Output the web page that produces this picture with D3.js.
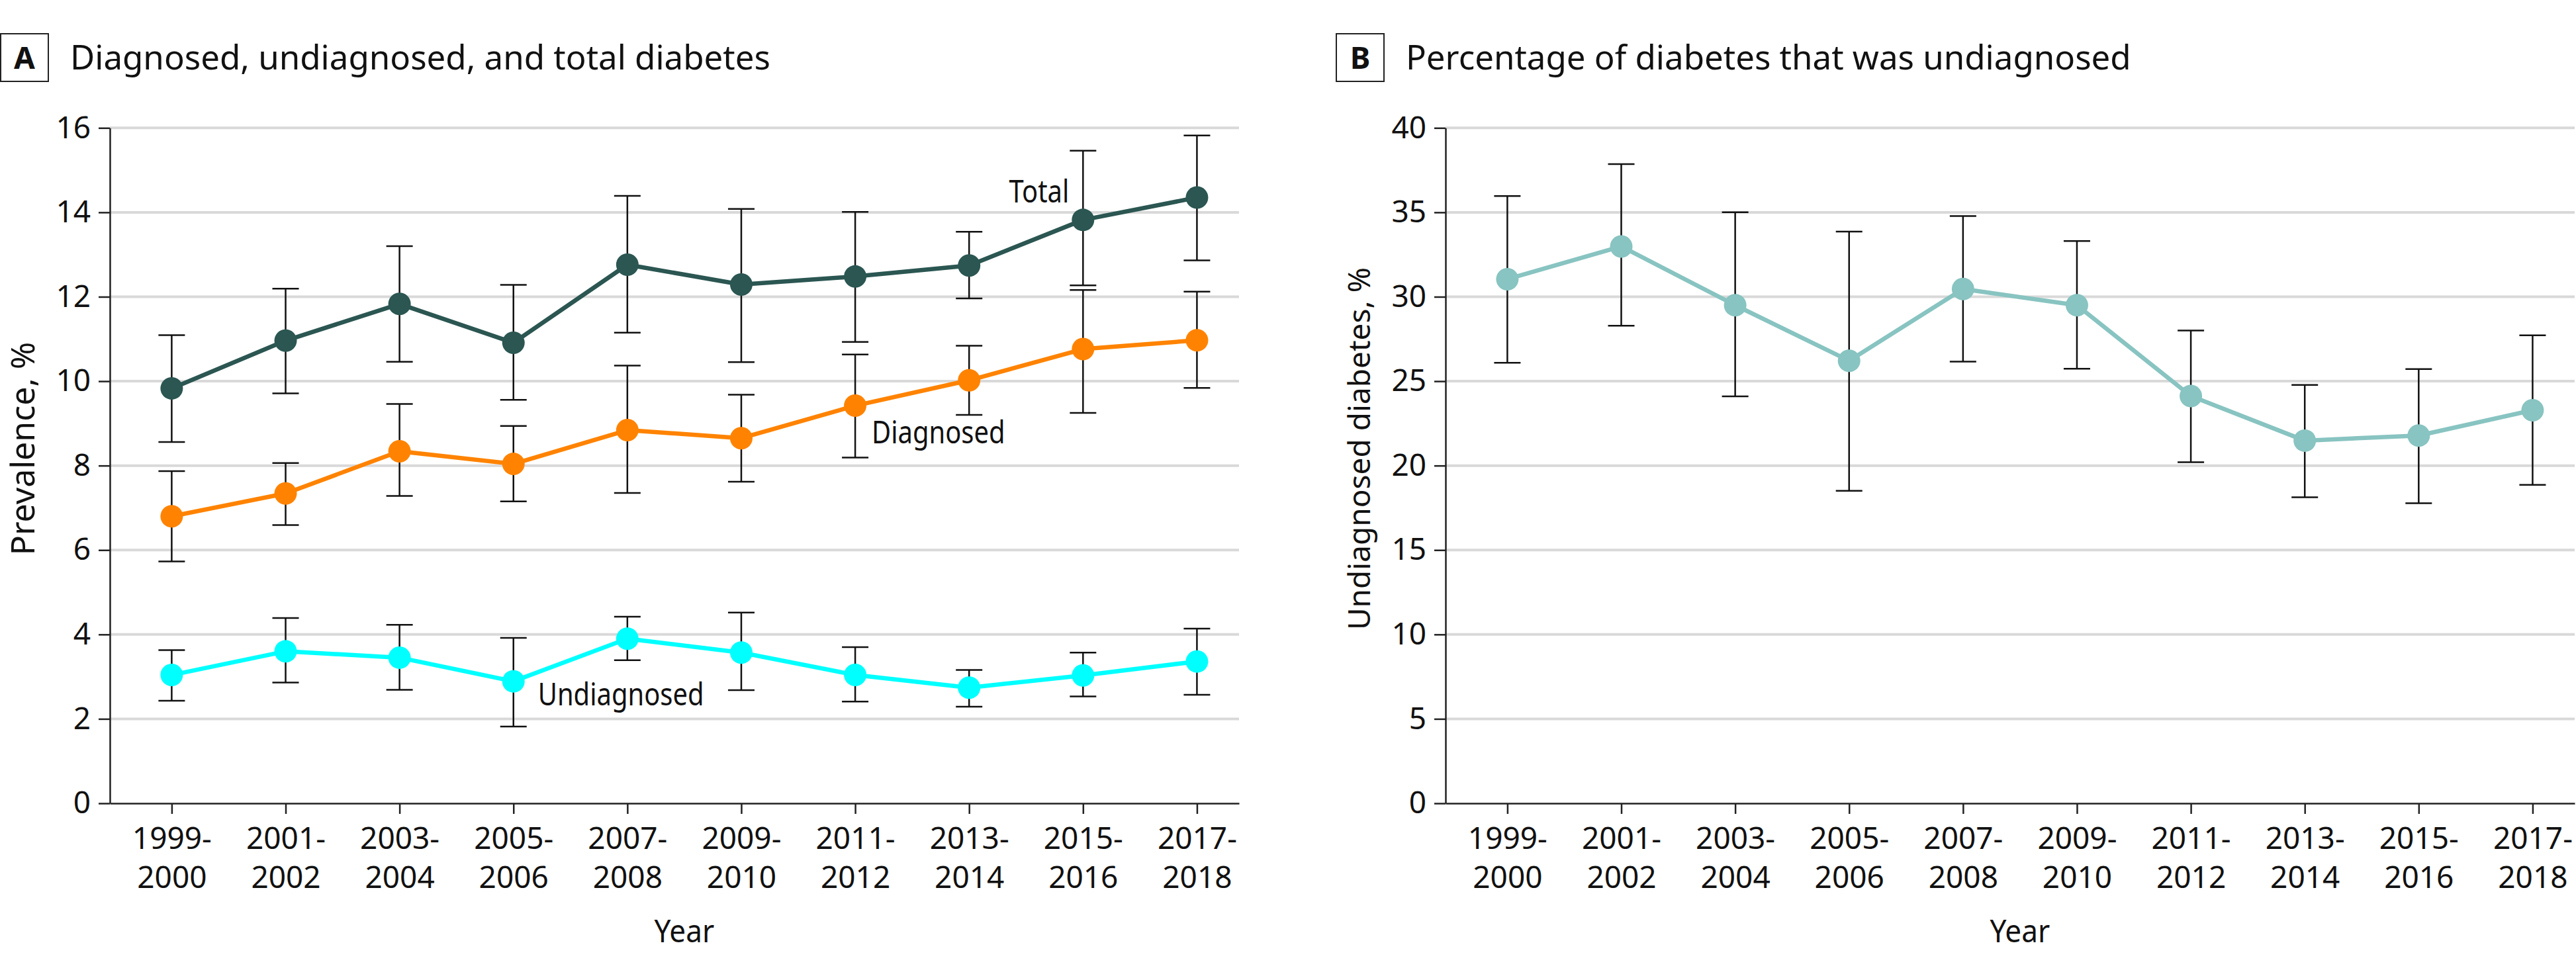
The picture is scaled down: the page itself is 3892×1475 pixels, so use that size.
<!DOCTYPE html>
<html>
<head>
<meta charset="utf-8">
<script src="https://cdn.jsdelivr.net/npm/d3@7"></script>
<style>
  body { margin: 0; background: #fff; }
  text { font-family: "Noto Sans", "Open Sans", sans-serif; fill: #111; }
</style>
</head>
<body>
<div id="chart"></div>
<script>
// survey cycles
var years = ["1999-2000", "2001-2002", "2003-2004", "2005-2006", "2007-2008",
             "2009-2010", "2011-2012", "2013-2014", "2015-2016", "2017-2018"];

// panel A, prevalence %
var totalValue  = [9.83, 10.96, 11.83, 10.91, 12.76, 12.29, 12.48, 12.74, 13.82, 14.35];
var totalLower  = [8.56, 9.71, 10.46, 9.56, 11.15, 10.45, 10.93, 11.96, 12.27, 12.86];
var totalUpper  = [11.09, 12.19, 13.20, 12.28, 14.39, 14.08, 14.01, 13.54, 15.46, 15.82];

var diagValue   = [6.80, 7.34, 8.34, 8.04, 8.84, 8.65, 9.42, 10.02, 10.76, 10.97];
var diagLower   = [5.73, 6.59, 7.28, 7.15, 7.35, 7.62, 8.19, 9.20, 9.25, 9.84];
var diagUpper   = [7.87, 8.06, 9.46, 8.94, 10.37, 9.68, 10.63, 10.84, 12.16, 12.12];

var undiagValue = [3.04, 3.60, 3.45, 2.89, 3.90, 3.57, 3.04, 2.74, 3.03, 3.36];
var undiagLower = [2.43, 2.86, 2.69, 1.82, 3.39, 2.68, 2.41, 2.29, 2.53, 2.57];
var undiagUpper = [3.63, 4.39, 4.23, 3.92, 4.42, 4.52, 3.70, 3.16, 3.57, 4.14];

// panel B, share of diabetes undiagnosed %
var pctValue = [31.04, 32.98, 29.50, 26.21, 30.46, 29.50, 24.12, 21.48, 21.78, 23.28];
var pctLower = [26.09, 28.28, 24.10, 18.51, 26.16, 25.74, 20.20, 18.12, 17.77, 18.86];
var pctUpper = [35.97, 37.86, 35.01, 33.86, 34.78, 33.30, 28.00, 24.78, 25.72, 27.72];

var yTicksA = [0, 2, 4, 6, 8, 10, 12, 14, 16];
var yTicksB = [0, 5, 10, 15, 20, 25, 30, 35, 40];

var width = 3892,
    height = 1475;

var plotTop = 193.3,
    plotBottom = 1214,
    plotWidth = 1706;

var svg = d3.select("#chart")
  .append("svg")
    .attr("width", width)
    .attr("height", height);

function makeSeries(values, lower, upper) {
  return values.map(function(v, i) {
    return { year: years[i], value: v, lower: lower[i], upper: upper[i] };
  });
}

// the source uses a condensed face for labels; squeeze the text horizontally
function narrowText(parent, x, y, str, size, squeeze, anchor) {
  return parent.append("text")
    .attr("transform", "translate(" + x + "," + y + ") scale(" + squeeze + ",1)")
    .attr("text-anchor", anchor || "start")
    .attr("font-size", size)
    .text(str);
}

function drawPanel(left, letter, title, yLabel, yLabelSize, yTicks, seriesList) {
  var g = svg.append("g");
  var panelX = left - 166;

  var x = d3.scalePoint()
    .domain(years)
    .range([left, left + plotWidth])
    .padding(0.456)
    .align(0.595);

  var y = d3.scaleLinear()
    .domain([0, d3.max(yTicks)])
    .range([plotBottom, plotTop]);

  // title box + title
  g.append("rect")
    .attr("x", panelX + 1)
    .attr("y", 51)
    .attr("width", 72)
    .attr("height", 72)
    .attr("fill", "none")
    .attr("stroke", "#222")
    .attr("stroke-width", 2);
  g.append("text")
    .attr("x", panelX + 37)
    .attr("y", 104)
    .attr("text-anchor", "middle")
    .attr("font-size", 46)
    .attr("font-weight", "bold")
    .text(letter);
  g.append("text")
    .attr("x", panelX + 106)
    .attr("y", 105)
    .attr("font-size", 51)
    .text(title);

  // gridlines
  g.append("g")
    .selectAll("line")
    .data(yTicks.filter(function(d) { return d > 0; }))
    .enter()
      .append("line")
      .attr("x1", left)
      .attr("x2", left + plotWidth)
      .attr("y1", function(d) { return y(d); })
      .attr("y2", function(d) { return y(d); })
      .attr("stroke", "#d9d9d9")
      .attr("stroke-width", 4);

  // axes
  var yAxis = g.append("g")
    .attr("transform", "translate(" + left + ",0)")
    .call(d3.axisLeft(y).tickValues(yTicks).tickSize(17).tickSizeOuter(0).tickPadding(12));
  yAxis.selectAll("text").attr("font-size", 46).attr("font-family", null).attr("fill", "#111");

  var xAxis = g.append("g")
    .attr("transform", "translate(0," + plotBottom + ")")
    .call(d3.axisBottom(x).tickSize(16).tickSizeOuter(0));
  xAxis.selectAll("text").remove();
  xAxis.selectAll(".tick").each(function(d) {
    var parts = d.split("-");
    var t = d3.select(this).append("text")
      .attr("text-anchor", "middle")
      .attr("font-size", 46)
      .attr("fill", "#111");
    t.append("tspan").attr("x", 0).attr("y", 69).text(parts[0] + "-");
    t.append("tspan").attr("x", 0).attr("y", 127.7).text(parts[1]);
  });

  [yAxis, xAxis].forEach(function(ax) {
    ax.selectAll("path, line").attr("stroke", "#222").attr("stroke-width", 2.5);
  });

  // axis titles
  narrowText(g, (x(years[0]) + x(years[years.length - 1])) / 2, 1424, "Year", 48, 0.92, "middle");

  g.append("text")
    .attr("transform", "translate(" + (panelX + 52) + "," + 678 + ") rotate(-90)")
    .attr("text-anchor", "middle")
    .attr("font-family", "'DejaVu Sans', 'Open Sans', sans-serif")
    .attr("font-size", yLabelSize)
    .text(yLabel);

  // series
  var line = d3.line()
    .x(function(d) { return x(d.year); })
    .y(function(d) { return y(d.value); });

  seriesList.forEach(function(s) {
    g.append("path")
      .datum(s.data)
      .attr("fill", "none")
      .attr("stroke", s.color)
      .attr("stroke-width", 6.5)
      .attr("stroke-linejoin", "round")
      .attr("d", line);
  });

  seriesList.forEach(function(s) {
    var bars = g.append("g")
      .selectAll("g")
      .data(s.data)
      .enter()
        .append("g")
        .attr("stroke", "#111")
        .attr("stroke-width", 2.5);
    bars.append("line")
      .attr("x1", function(d) { return x(d.year); })
      .attr("x2", function(d) { return x(d.year); })
      .attr("y1", function(d) { return y(d.lower); })
      .attr("y2", function(d) { return y(d.upper); });
    bars.append("line")
      .attr("x1", function(d) { return x(d.year) - 20; })
      .attr("x2", function(d) { return x(d.year) + 20; })
      .attr("y1", function(d) { return y(d.upper); })
      .attr("y2", function(d) { return y(d.upper); });
    bars.append("line")
      .attr("x1", function(d) { return x(d.year) - 20; })
      .attr("x2", function(d) { return x(d.year) + 20; })
      .attr("y1", function(d) { return y(d.lower); })
      .attr("y2", function(d) { return y(d.lower); });
  });

  seriesList.forEach(function(s) {
    g.append("g")
      .selectAll("circle")
      .data(s.data)
      .enter()
        .append("circle")
        .attr("cx", function(d) { return x(d.year); })
        .attr("cy", function(d) { return y(d.value); })
        .attr("r", 17)
        .attr("fill", s.color);
  });

  return { g: g, x: x, y: y };
}

var panelA = drawPanel(166, "A", "Diagnosed, undiagnosed, and total diabetes", "Prevalence, %", 50, yTicksA, [
  { color: "#00ffff", data: makeSeries(undiagValue, undiagLower, undiagUpper) },
  { color: "#ff8300", data: makeSeries(diagValue, diagLower, diagUpper) },
  { color: "#2b5652", data: makeSeries(totalValue, totalLower, totalUpper) }
]);

drawPanel(2184, "B", "Percentage of diabetes that was undiagnosed", "Undiagnosed diabetes, %", 46, yTicksB, [
  { color: "#88c4c1", data: makeSeries(pctValue, pctLower, pctUpper) }
]);

// series labels in panel A
var ax = panelA.x, ay = panelA.y;
narrowText(panelA.g, ax(years[8]) - 21, ay(14) - 15, "Total", 47, 0.85, "end");
narrowText(panelA.g, ax(years[6]) + 25, ay(8) - 34, "Diagnosed", 47, 0.85);
narrowText(panelA.g, ax(years[3]) + 37, ay(2) - 20, "Undiagnosed", 47, 0.85);
</script>
</body>
</html>
